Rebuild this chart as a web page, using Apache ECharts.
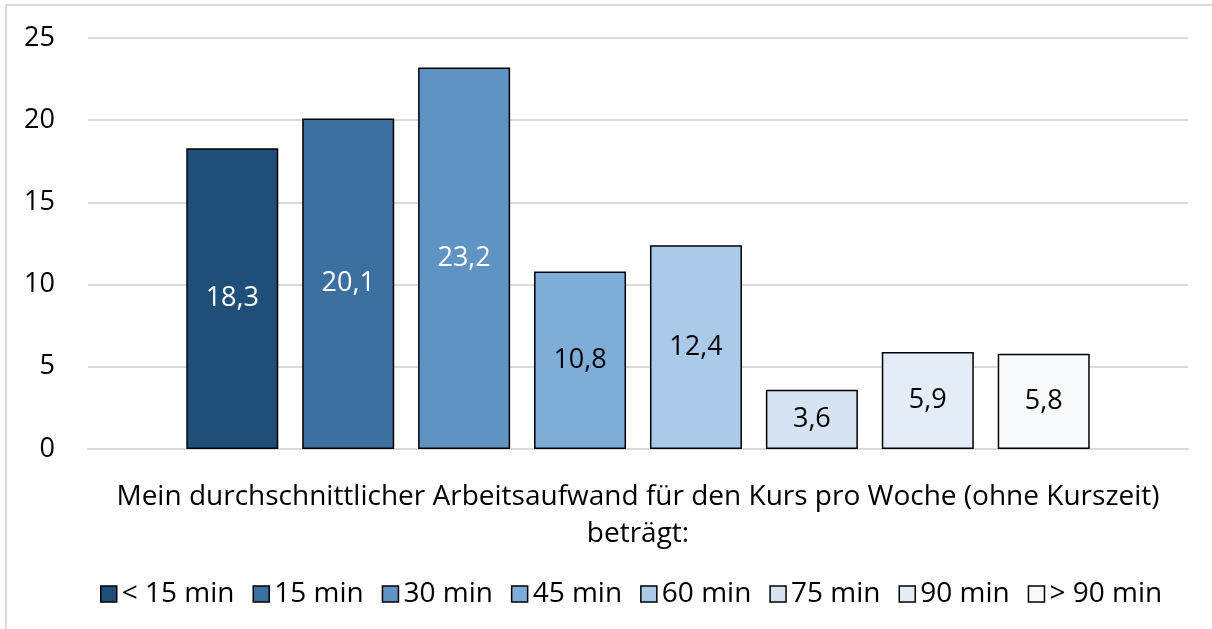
<!DOCTYPE html>
<html>
<head>
<meta charset="utf-8">
<script src="https://cdn.jsdelivr.net/npm/echarts@6/dist/echarts.min.js"></script>
<style>
  html, body { margin: 0; padding: 0; background: #fff; }
  #chart { width: 1212px; height: 629px; }
</style>
</head>
<body>
<div id="chart"></div>
<script>
// Daten (Prozent der Teilnehmer je Arbeitsaufwand)
const categories = ['Mein durchschnittlicher Arbeitsaufwand für den Kurs pro Woche (ohne Kurszeit)\nbeträgt:'];
const seriesNames = ['< 15 min', '15 min', '30 min', '45 min', '60 min', '75 min', '90 min', '> 90 min'];
const seriesValues = [18.3, 20.1, 23.2, 10.8, 12.4, 3.6, 5.9, 5.8];
const barColors = ['#1f4e79', '#3c70a0', '#5e93c3', '#7eadd8', '#abc9e8', '#d6e3f2', '#e4ecf7', '#f7f9fd'];
const labelColors = ['#ffffff', '#ffffff', '#ffffff', '#000000', '#000000', '#000000', '#000000', '#000000'];
const yTicks = [0, 5, 10, 15, 20, 25];

const FONT = '"Open Sans", "Noto Sans", sans-serif';
const FS = 28;

const chart = echarts.init(document.getElementById('chart'));

const series = seriesNames.map((name, i) => ({
  name: name,
  type: 'bar',
  data: [seriesValues[i]],
  barWidth: 92,
  barGap: '26%',
  itemStyle: { color: barColors[i], borderColor: '#000', borderWidth: 1.5 },
  label: {
    show: true,
    position: 'inside',
    color: labelColors[i],
    fontFamily: FONT,
    fontSize: 27,
    formatter: (p) => p.value.toFixed(1).replace('.', ',')
  }
}));

chart.setOption({
  animation: false,
  backgroundColor: '#fff',
  graphic: [{
    type: 'rect',
    shape: { x: 6, y: 5, width: 1300, height: 700 },
    style: { fill: 'none', stroke: '#d9d9d9', lineWidth: 2 },
    silent: true
  }],
  grid: { left: 88, right: 24, top: 38, bottom: 180 },
  legend: {
    data: seriesNames,
    bottom: 16,
    left: 95,
    padding: 5,
    icon: 'rect',
    itemWidth: 16,
    itemHeight: 16,
    itemGap: 18,
    itemStyle: { borderColor: '#000', borderWidth: 1.5 },
    textStyle: { fontFamily: FONT, fontSize: FS, color: '#000' }
  },
  xAxis: {
    type: 'category',
    data: categories,
    axisLine: { lineStyle: { color: '#d9d9d9', width: 2 } },
    axisTick: { show: false },
    axisLabel: { color: '#000', fontFamily: FONT, fontSize: FS, lineHeight: 37, margin: 30 }
  },
  yAxis: {
    type: 'value',
    min: yTicks[0],
    max: yTicks[yTicks.length - 1],
    interval: 5,
    axisLine: { show: false },
    axisTick: { show: false },
    splitLine: { lineStyle: { color: '#d9d9d9', width: 2 } },
    axisLabel: { color: '#000', fontFamily: FONT, fontSize: 27, margin: 33 }
  },
  series: series
});
</script>
</body>
</html>
